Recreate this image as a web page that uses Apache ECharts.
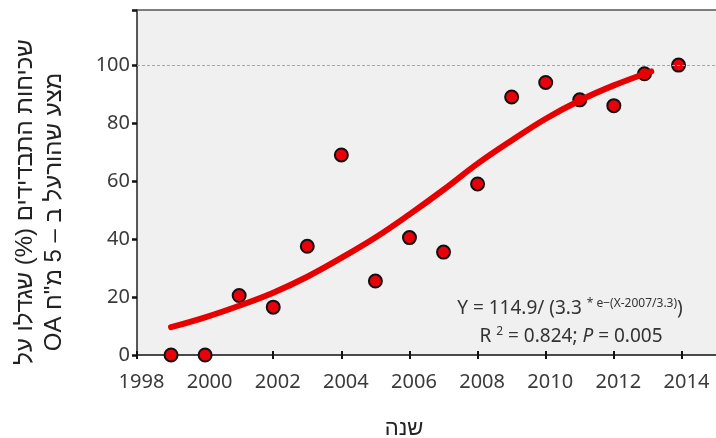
<!DOCTYPE html>
<html>
<head>
<meta charset="utf-8">
<script src="https://cdn.jsdelivr.net/npm/echarts@6/dist/echarts.min.js"></script>
<style>
  html, body { margin: 0; padding: 0; background: #fff; }
  #chart { width: 716px; height: 438px; }
</style>
</head>
<body>
<div id="chart"></div>
<script>
// נקודות שנמדדו (שנה, אחוז)
var obsYears = [1999, 2000, 2001, 2002, 2003, 2004, 2005, 2006, 2007, 2008, 2009, 2010, 2011, 2012, 2012.9, 2013.9]
var obsPct = [0, 0, 20.5, 16.5, 37.5, 69, 25.5, 40.5, 35.5, 59, 89, 94, 88, 86, 97, 100]

// קו המגמה כפי שנקרא מהתמונה
var fitYears = [1999, 2000, 2001, 2002, 2003, 2004, 2005, 2006, 2007, 2008, 2009, 2010, 2011, 2012, 2013.1]
var fitPct = [9.6, 13, 17, 21.5, 27, 33.5, 40.5, 48.5, 57, 66, 74, 81.5, 87.8, 93, 97.8]

// תוויות הצירים
var xTicks = [1998, 2000, 2002, 2004, 2006, 2008, 2010, 2012, 2014]
var yLabels = [0, 20, 40, 60, 80, 100]
var yTicks = [0, 20, 40, 60, 80, 100, 119]

var yTitle1 = 'שכיחות התבדידים (%) שגדלו על'
var yTitle2 = 'מצע שהורעל ב – 5 מ"ח OA'
var xTitle = 'שנה'

var chart = echarts.init(document.getElementById('chart'))

var font = "'Noto Sans', 'Open Sans', sans-serif"
var hebFont = "'Liberation Sans', 'DejaVu Sans', sans-serif"
var rtl = function (s) { return '\u202B' + s + '\u202C' }

var option = {
    animation: false,
    grid: {
        left: 137, right: 0, top: 10, bottom: 83,
        show: true, backgroundColor: '#f0f0f0', borderWidth: 0
    },
    xAxis: [{
        type: 'value', min: 1998, max: 2015,
        axisLine: { lineStyle: { color: '#111', width: 1.5 } },
        axisTick: { customValues: xTicks, length: 4, lineStyle: { color: '#111', width: 2 } },
        axisLabel: {
            customValues: xTicks, margin: 17, padding: [0, 0, 0, 9],
            fontSize: 20, color: '#3a3a3a', fontFamily: font,
            formatter: function (v) { return String(v) }
        },
        splitLine: { show: false }
    }, {
        // קו עליון
        type: 'value', min: 1998, max: 2015, position: 'top',
        axisLine: { lineStyle: { color: '#555', width: 1.5 } },
        axisTick: { show: false }, axisLabel: { show: false }, splitLine: { show: false }
    }, {
        // סימוני שנתות פנימיים
        type: 'value', min: 1998, max: 2015, position: 'bottom',
        axisLine: { show: false },
        axisTick: { inside: true, customValues: xTicks, length: 4, lineStyle: { color: '#111', width: 2 } },
        axisLabel: { show: false }, splitLine: { show: false }
    }],
    yAxis: {
        type: 'value', min: 0, max: 119,
        axisLine: { show: true, lineStyle: { color: '#222', width: 1.5 } },
        axisTick: { show: true, customValues: yTicks, length: 5, lineStyle: { color: '#111', width: 2.5 } },
        axisLabel: { customValues: yLabels, margin: 7, fontSize: 20, color: '#3a3a3a', fontFamily: font },
        splitLine: { show: false }
    },
    series: [{
        type: 'scatter',
        data: obsYears.map(function (y, i) { return [y, obsPct[i]] }),
        symbol: 'circle', symbolSize: 13,
        itemStyle: { color: '#e8000b', borderColor: '#111', borderWidth: 2, opacity: 1 },
        z: 3,
        markLine: {
            silent: true, symbol: ['none', 'none'],
            label: { show: false },
            lineStyle: { color: '#a8a8a8', type: [3, 2], width: 1 },
            data: [{ yAxis: 100 }]
        }
    }, {
        type: 'line',
        data: fitYears.map(function (y, i) { return [y, fitPct[i]] }),
        smooth: 0.4, showSymbol: false,
        lineStyle: { color: '#e60000', width: 6, cap: 'round' },
        z: 4
    }],
    graphic: [{
        type: 'text', x: 25, y: 202, rotation: Math.PI / 2,
        style: { text: rtl(yTitle1), font: '24px ' + hebFont, fill: '#222', align: 'center', verticalAlign: 'middle' }
    }, {
        type: 'text', x: 54, y: 212, rotation: Math.PI / 2,
        style: { text: rtl(yTitle2), font: '24px ' + hebFont, fill: '#222', align: 'center', verticalAlign: 'middle' }
    }, {
        type: 'text', x: 404, y: 429,
        style: { text: xTitle, font: '22px ' + hebFont, fill: '#222', align: 'center', verticalAlign: 'middle' }
    }, {
        type: 'text', x: 570, y: 308, z: 10,
        style: {
            text: '{m|Y = 114.9/ (3.3 }{s|* e\u2212(X-2007/3.3)}{m|)}',
            align: 'center', verticalAlign: 'middle', fill: '#333',
            rich: {
                m: { fontSize: 19, fontFamily: font, lineHeight: 20, fill: '#333', verticalAlign: 'bottom' },
                s: { fontSize: 12, fontFamily: font, lineHeight: 14, fill: '#333', verticalAlign: 'top' }
            }
        }
    }, {
        type: 'text', x: 571, y: 336, z: 10,
        style: {
            text: '{m|R }{s|2}{m| = 0.824; }{i|P}{m| = 0.005}',
            align: 'center', verticalAlign: 'middle', fill: '#333',
            rich: {
                m: { fontSize: 19, fontFamily: font, lineHeight: 20, fill: '#333', verticalAlign: 'bottom' },
                i: { fontSize: 19, fontFamily: font, fontStyle: 'italic', lineHeight: 20, fill: '#333', verticalAlign: 'bottom' },
                s: { fontSize: 12, fontFamily: font, lineHeight: 14, fill: '#333', verticalAlign: 'top' }
            }
        }
    }]
}

chart.setOption(option)
</script>
</body>
</html>
